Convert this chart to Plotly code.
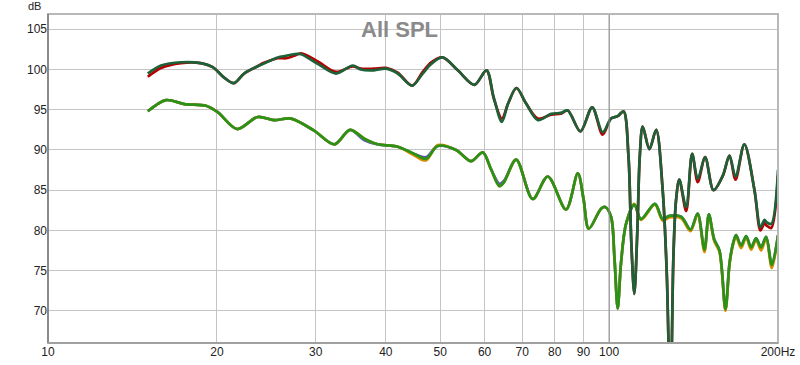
import plotly.graph_objects as go

# ---------------- data ----------------
upper_freq = [15.06, 15.9, 17.26, 18.7, 19.66, 20.6, 21.43, 22.36, 23.64, 24.2,
              25.67, 26.56, 27.45, 28.25, 30.25, 32.6, 34.92, 36.1, 38.1, 40.0,
              42.0, 44.57, 46.54, 48.2, 50.5, 53.74, 57.54, 60.46, 62.3, 64.4,
              66.1, 68.37, 71.1, 74.65, 78.85, 82.0, 84.4, 88.9, 93.3, 97.4,
              100.8, 103.6, 106.1, 108.3, 109.5, 110.9, 112.3, 113.4, 114.8, 118.0,
              121.3, 124.6, 126.7, 128.6, 130.2, 131.6, 133.4, 137.2, 140.6, 143.9,
              148.3, 153.5, 159.5, 163.9, 168.0, 174.2, 181.6, 186.1, 189.2, 190.9,
              194.5, 200.0]
upper_green = [99.5, 100.5, 100.9, 100.8, 100.3, 99.0, 98.3, 99.5, 100.4, 100.7,
               101.5, 101.7, 101.9, 101.9, 100.7, 99.5, 100.5, 100.0, 99.9, 100.1,
               99.5, 98.0, 99.5, 100.7, 101.5, 99.9, 98.1, 99.9, 96.5, 93.5,
               95.8, 97.7, 95.8, 93.7, 94.5, 94.6, 94.9, 92.3, 95.3, 92.2,
               93.9, 94.2, 94.8, 89.1, 78.8, 72.1, 80.0, 89.1, 92.9, 90.1,
               92.5, 85.0, 74.7, 58.0, 76.7, 83.7, 86.3, 82.9, 89.5, 86.4,
               89.1, 85.0, 86.8, 89.3, 86.7, 90.7, 85.0, 80.4, 81.3, 81.0,
               80.8, 87.5]
upper_red = [99.1, 100.2, 100.8, 100.8, 100.3, 99.0, 98.3, 99.5, 100.4, 100.8,
             101.4, 101.4, 101.7, 102.0, 101.0, 99.7, 100.4, 100.1, 100.1, 100.2,
             99.6, 98.0, 99.7, 100.9, 101.5, 99.9, 98.1, 99.9, 96.4, 93.9,
             95.8, 97.7, 95.8, 93.9, 94.4, 94.5, 94.9, 92.3, 95.3, 91.9,
             93.9, 94.2, 94.8, 89.1, 78.8, 72.1, 80.0, 89.1, 92.9, 90.1,
             92.5, 85.0, 74.7, 58.0, 76.7, 83.7, 86.3, 82.4, 89.5, 86.0,
             89.1, 85.0, 86.8, 89.3, 86.3, 90.7, 85.0, 80.0, 80.9, 80.6,
             80.3, 86.8]

lower_freq = [15.06, 16.23, 17.5, 19.12, 20.07, 21.72, 23.64, 25.28, 27.12, 29.8,
              32.38, 34.54, 36.64, 38.7, 42.0, 44.98, 47.18, 49.5, 53.37, 56.75,
              59.54, 61.6, 63.76, 64.99, 68.3, 73.1, 77.76, 83.8, 87.96, 90.0,
              92.0, 96.76, 98.4, 100.8, 102.2, 103.6, 105.0, 107.2, 110.9, 114.0,
              120.7, 124.6, 128.1, 134.4, 139.7, 143.8, 147.9, 150.6, 153.9, 157.3,
              161.2, 163.9, 166.2, 168.4, 171.9, 175.5, 179.1, 182.8, 186.6, 190.5,
              195.0, 200.0]
lower_green = [94.8, 96.2, 95.7, 95.5, 94.7, 92.6, 94.1, 93.7, 93.9, 92.4,
               90.7, 92.5, 91.4, 90.7, 90.4, 89.5, 88.9, 90.5, 90.0, 88.6,
               89.7, 87.6, 85.5, 86.0, 88.8, 83.9, 86.7, 82.6, 87.1, 84.0,
               80.2, 82.7, 82.9, 81.7, 76.7, 70.3, 75.9, 80.8, 83.2, 81.4,
               83.3, 81.4, 81.8, 81.7, 80.1, 82.1, 77.6, 82.0, 78.9, 77.5,
               70.2, 75.9, 78.3, 79.4, 78.1, 79.3, 77.9, 79.0, 77.9, 79.2,
               75.7, 79.4]
lower_orange = [94.8, 96.2, 95.7, 95.5, 94.7, 92.6, 94.1, 93.7, 93.9, 92.4,
                90.7, 92.5, 91.4, 90.7, 90.4, 89.3, 88.7, 90.6, 90.0, 88.6,
                89.7, 87.6, 85.5, 86.0, 88.8, 83.9, 86.7, 82.6, 87.1, 84.0,
                80.2, 82.7, 82.9, 81.7, 76.7, 70.3, 75.9, 80.8, 83.3, 81.3,
                83.2, 81.2, 81.6, 81.5, 79.9, 82.0, 77.3, 81.9, 78.7, 77.3,
                70.0, 75.7, 78.1, 79.2, 77.8, 79.1, 77.6, 78.8, 77.5, 79.0,
                75.3, 79.3]
lower_blue = [94.8, 96.2, 95.7, 95.5, 94.7, 92.6, 94.1, 93.7, 93.9, 92.4,
              90.7, 92.5, 91.2, 90.7, 90.4, 89.5, 89.1, 90.5, 90.0, 88.6,
              89.7, 87.6, 85.8, 86.2, 88.8, 83.9, 86.7, 82.6, 87.1, 84.0,
              80.2, 82.7, 82.9, 81.7, 76.7, 70.3, 75.9, 80.8, 83.2, 81.4,
              83.3, 81.4, 81.8, 81.7, 80.1, 82.1, 77.6, 82.0, 78.9, 77.5,
              70.2, 75.9, 78.3, 79.4, 78.1, 79.3, 77.9, 79.0, 77.9, 79.2,
              75.7, 79.4]

x_tick_vals = [10, 20, 30, 40, 50, 60, 70, 80, 90, 100, 200]
x_tick_text = ["10", "20", "30", "40", "50", "60", "70", "80", "90", "100", "200Hz"]
y_tick_vals = [70, 75, 80, 85, 90, 95, 100, 105]

# ---------------- figure ----------------
fig = go.Figure()

def add(freq, vals, color, width=2.7):
    fig.add_trace(go.Scatter(x=freq, y=vals, mode="lines",
                             line=dict(color=color, width=width, shape="spline", smoothing=0.9),
                             hoverinfo="skip", showlegend=False, cliponaxis=True))

add(lower_freq, lower_blue, "#5a55c8")
add(lower_freq, lower_orange, "#d98c00")
add(lower_freq, lower_green, "#2a9214")
add(upper_freq, upper_red, "#b40000")
add(upper_freq, upper_green, "#1d6139")

fig.update_layout(
    width=800, height=365,
    margin=dict(l=48, r=22, t=14, b=22),
    paper_bgcolor="white", plot_bgcolor="white",
    font=dict(family="Liberation Sans, Arial, sans-serif", size=12, color="#222"),
    xaxis=dict(type="log", range=[1, 2.30103], tickvals=x_tick_vals, ticktext=x_tick_text,
               showgrid=True, gridcolor="#c4c4c4", gridwidth=1, zeroline=False,
               showline=False, ticks="", automargin=False,
               tickfont=dict(size=12, color="#222")),
    yaxis=dict(range=[66.0, 106.9], tickvals=y_tick_vals,
               showgrid=True, gridcolor="#c4c4c4", gridwidth=1, zeroline=False,
               showline=False, ticks="", automargin=False,
               tickfont=dict(size=12, color="#222")),
    shapes=[
        # darker 100 Hz gridline
        dict(type="line", xref="x", yref="paper", x0=100, x1=100, y0=0, y1=1,
             line=dict(color="#8c8c8c", width=1)),
        # frame
        dict(type="rect", xref="paper", yref="paper", x0=0, x1=1, y0=0, y1=1,
             line=dict(color="#b8b8b8", width=2)),
        # shadowed left / bottom edges
        dict(type="line", xref="paper", yref="paper", x0=0, x1=0, y0=0, y1=1,
             line=dict(color="#8a8a8a", width=2)),
        dict(type="line", xref="paper", yref="paper", x0=0, x1=1, y0=0, y1=0,
             line=dict(color="#a0a0a0", width=2)),
    ],
    annotations=[
        dict(text="<b>All SPL</b>", xref="paper", yref="paper", x=0.482, y=1,
             xanchor="center", yanchor="top", yshift=-1, showarrow=False,
             font=dict(size=22, color="#8a8a8a", family="Liberation Sans, Arial, sans-serif")),
        dict(text="dB", xref="paper", yref="paper", x=0, y=1, xanchor="right",
             yanchor="middle", xshift=-5, yshift=8, showarrow=False,
             font=dict(size=11, color="#222")),
    ],
)

fig.write_html("out.html", config={"displayModeBar": False},
               post_script="document.body.style.margin='0px';document.body.style.overflow='hidden';")
